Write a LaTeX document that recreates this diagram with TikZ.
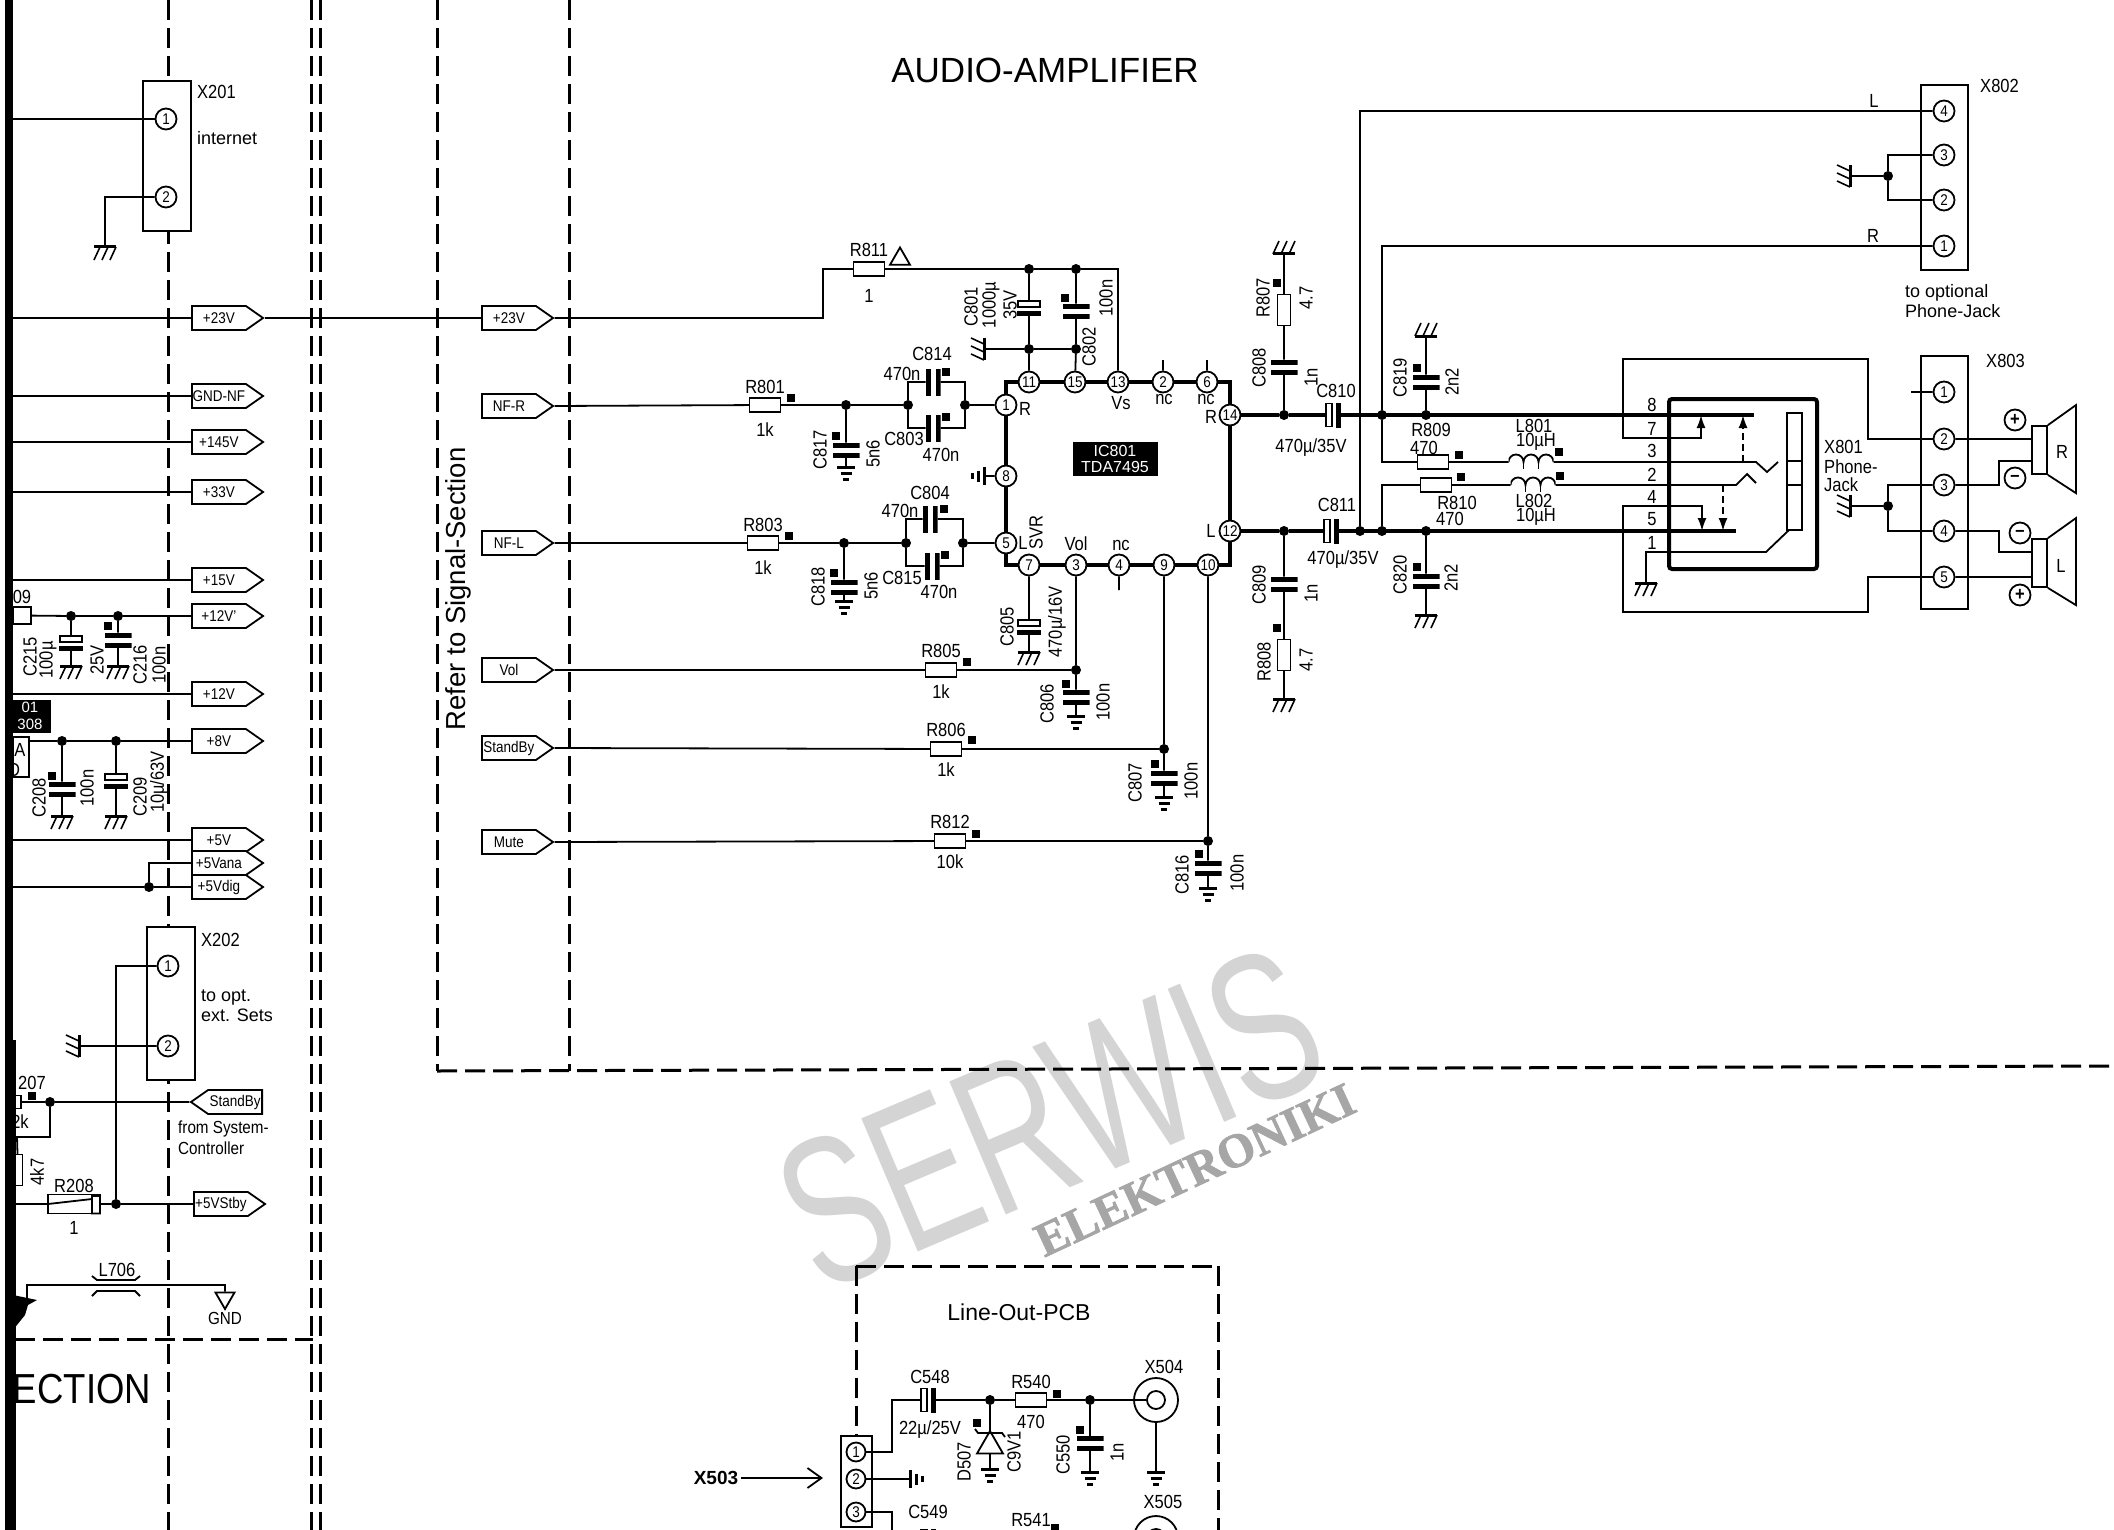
\documentclass[tikz,border=0pt]{standalone}
\usepackage{fontspec}
\setmainfont[FakeStretch=0.87]{Liberation Sans}
\newfontfamily\widefont{Liberation Sans}
\newfontfamily\stampfont[FakeBold=1.6]{Liberation Serif}
\usetikzlibrary{arrows,arrows.meta,positioning,shapes.geometric,shapes.symbols}

\begin{document}
\begin{tikzpicture}[x=1pt, y=-1pt, node distance=4pt, >=latex',
 wire/.style = {line width=1.8pt},
 bus/.style = {line width=4pt},
 sect/.style = {line width=3pt, dash pattern=on 20pt off 8pt},
 jtip/.style = {-{Latex[length=13pt,width=9pt]}},
 txt/.style = {inner sep=0pt, font=\fontsize{19}{20}\selectfont},
 vtxt/.style = {txt, rotate=90},
 small/.style = {inner sep=0pt, font=\fontsize{17.5}{18}\selectfont},
 wide/.style = {inner sep=0pt, font=\widefont\fontsize{18}{19}\selectfont},
 pin/.style = {draw, wire, circle, fill=white, minimum size=21pt, inner sep=0pt, font=\fontsize{15.5}{16}\selectfont},
 dot/.style = {circle, fill=black, minimum size=10pt, inner sep=0pt},
 smd/.style = {rectangle, fill=black, minimum size=8pt, inner sep=0pt},
 conn/.style = {draw, rectangle, line width=2.6pt, fill=white, inner sep=0pt},
 rblock/.style = {draw, wire, rectangle, fill=white, minimum width=31pt, minimum height=14pt, inner sep=0pt, outer sep=0pt},
 vrblock/.style = {rblock, minimum width=13pt, minimum height=31pt},
 tag/.style = {draw, wire, signal, signal to=east, signal pointer angle=70, fill=white, anchor=west, text width=54pt, align=center, minimum height=24pt, inner sep=0pt, font=\fontsize{15.5}{16}\selectfont},
 tagl/.style = {tag, signal to=west, anchor=east},
 capv/.style = {rectangle, minimum width=27pt, minimum height=15pt, inner sep=0pt, outer sep=0pt,
   path picture={\fill (path picture bounding box.north west) rectangle ([yshift=-5pt]path picture bounding box.north east);
                 \fill (path picture bounding box.south west) rectangle ([yshift=5pt]path picture bounding box.south east);}},
 caph/.style = {rectangle, minimum width=15pt, minimum height=27pt, inner sep=0pt, outer sep=0pt,
   path picture={\fill (path picture bounding box.north west) rectangle ([xshift=5pt]path picture bounding box.south west);
                 \fill (path picture bounding box.north east) rectangle ([xshift=-5pt]path picture bounding box.south east);}},
 capvp/.style = {rectangle, minimum width=24pt, minimum height=16pt, inner sep=0pt, outer sep=0pt,
   path picture={\draw[wire] ([xshift=1pt,yshift=-1pt]path picture bounding box.north west) rectangle ([xshift=-1pt,yshift=-7pt]path picture bounding box.north east);
                 \fill (path picture bounding box.south west) rectangle ([yshift=5pt]path picture bounding box.south east);}},
 caphp/.style = {rectangle, minimum width=16pt, minimum height=25pt, inner sep=0pt, outer sep=0pt,
   path picture={\draw[wire] ([xshift=1pt,yshift=-1pt]path picture bounding box.north west) rectangle ([xshift=7pt,yshift=1pt]path picture bounding box.south west);
                 \fill (path picture bounding box.north east) rectangle ([xshift=-5pt]path picture bounding box.south east);}},
 coil/.style = {rectangle, minimum width=45pt, minimum height=18pt, inner sep=0pt, outer sep=0pt,
   path picture={\draw[wire] (path picture bounding box.west) arc[start angle=180,end angle=0,radius=7.5pt] arc[start angle=180,end angle=0,radius=7.5pt] arc[start angle=180,end angle=0,radius=7.5pt];
                 \draw[wire] ([xshift=-7.5pt]path picture bounding box.center) -- ++(0pt,-7pt) ([xshift=7.5pt]path picture bounding box.center) -- ++(0pt,-7pt);}},
 chassis/.pic = {\coordinate (-c) at (0,0);
   \draw[line width=3pt] (-11,0) -- (11,0);
   \draw[line width=1.6pt] (-5,0) -- (-11,13) (3,0) -- (-3,13) (11,0) -- (5,13);},
 earth/.pic = {\coordinate (-c) at (0,0);
   \draw[line width=3pt] (-9,0) -- (9,0) (-5.5,6) -- (5.5,6) (-3,12) -- (3,12);},
]
    \useasboundingbox (0,0) rectangle (2114,1530);
    \clip (0,0) rectangle (2114,1530);
    \fill[white] (0,0) rectangle (2114,1530);

%% stamp across the sheet
    \node [rotate=23, text=gray!34, inner sep=0pt, xscale=.68, font=\widefont\fontsize{210}{210}\selectfont, transform shape] (stamp) at (1050,1118) {SERWIS};
    \node [rotate=25, text=gray!70, inner sep=0pt, font=\stampfont\bfseries\fontsize{48}{48}\selectfont] (stampb) at (1195,1170) {ELEKTRONIKI};

%% section borders
    \draw[sect] (168,0) -- (168,1530);
    \draw[sect] (311,0) -- (311,1530);
    \draw[sect] (320,0) -- (320,1530);
    \draw[sect] (437,0) -- (437,1071);
    \draw[sect] (569,0) -- (569,1071);
    \draw[sect] (437,1071) -- (2114,1066);
    \draw[sect] (15,1339) -- (313,1339);
    \draw[sect] (856,1266) -- (1218,1266);
    \draw[sect] (856,1266) -- (856,1436);
    \draw[sect] (1218,1266) -- (1218,1530);

    \coordinate (lft) at (9,0);

%% connectors and IC frame
    \node [conn, minimum width=48pt, minimum height=150pt] (x201) at (167,156) {};
    \node [conn, minimum width=48pt, minimum height=153pt] (x202) at (171,1003.5) {};
    \node [conn, minimum width=47pt, minimum height=185pt] (x802) at (1944.5,177.5) {};
    \node [conn, minimum width=47pt, minimum height=253pt] (x803) at (1944.5,482.5) {};
    \node [conn, minimum width=31pt, minimum height=91pt] (x503) at (856.5,1481.5) {};
    \node [draw, bus, minimum width=224pt, minimum height=183pt, inner sep=0pt] (icframe) at (1118,473.5) {};
    \node [draw, bus, rounded corners=3pt, minimum width=148pt, minimum height=170pt, inner sep=0pt] (jack) at (1743,484) {};
    \node [draw, wire, minimum width=15pt, minimum height=117pt, inner sep=0pt] (sleeve) at (1794.5,471.5) {};
    \draw[wire] (1787,461) -- (1802,461) (1787,485) -- (1802,485);

%% tags
    \node [tag] (t23a)  at (191,318) {+23V};
    \node [tag] (tgnd)  at (191,396) {GND-NF};
    \node [tag] (t145)  at (191,442) {+145V};
    \node [tag] (t33)   at (191,492) {+33V};
    \node [tag] (t15)   at (191,580) {+15V};
    \node [tag] (t12b)  at (191,616) {+12V'};
    \node [tag] (t12)   at (191,694) {+12V};
    \node [tag] (t8)    at (191,741) {+8V};
    \node [tag] (t5)    at (191,840) {+5V};
    \node [tag] (t5ana) at (191,863) {+5Vana};
    \node [tag] (t5dig) at (191,887) {+5Vdig};
    \node [tagl] (tsby) at (263,1102) {StandBy};
    \node [tag] (t5sby) at (193,1204) {+5VStby};
    \node [tag] (t23b)  at (481,318) {+23V};
    \node [tag] (tnfr)  at (481,406) {NF-R};
    \node [tag] (tnfl)  at (481,543) {NF-L};
    \node [tag] (tvol)  at (481,670) {Vol};
    \node [tag] (tstb)  at (481,748) {StandBy};
    \node [tag] (tmute) at (481,842) {Mute};

%% pins
    \node [pin] (x201a) at (166,119) {1};
    \node [pin] (x201b) at (166,197) {2};
    \node [pin] (x202a) at (168,966) {1};
    \node [pin] (x202b) at (168,1046) {2};
    \node [pin] (p11) at (1029,382) {11};
    \node [pin] (p15) at (1075,382) {15};
    \node [pin] (p13) at (1118,382) {13};
    \node [pin] (p2)  at (1163,382) {2};
    \node [pin] (p6)  at (1207,382) {6};
    \node [pin] (p14) at (1230,415) {14};
    \node [pin] (p12) at (1230,531) {12};
    \node [pin] (p1)  at (1006,405) {1};
    \node [pin] (p8)  at (1006,476) {8};
    \node [pin] (p5)  at (1006,543) {5};
    \node [pin] (p7)  at (1029,565) {7};
    \node [pin] (p3)  at (1076,565) {3};
    \node [pin] (p4)  at (1119,565) {4};
    \node [pin] (p9)  at (1164,565) {9};
    \node [pin] (p10) at (1208,565) {10};
    \node [pin] (x802d) at (1944,111) {4};
    \node [pin] (x802c) at (1944,155) {3};
    \node [pin] (x802b) at (1944,200) {2};
    \node [pin] (x802a) at (1944,246) {1};
    \node [pin] (x803a) at (1944,392) {1};
    \node [pin] (x803b) at (1944,439) {2};
    \node [pin] (x803c) at (1944,485) {3};
    \node [pin] (x803d) at (1944,531) {4};
    \node [pin] (x803e) at (1944,577) {5};
    \node [pin, minimum size=19pt] (x503a) at (856,1452) {1};
    \node [pin, minimum size=19pt] (x503b) at (856,1479) {2};
    \node [pin, minimum size=19pt] (x503c) at (856,1512) {3};

%% resistors
    \node [rblock] (r811) at (869,269) {};
    \node [rblock] (r801) at (765,405) {};
    \node [rblock] (r803) at (763,543) {};
    \node [rblock] (r805) at (941,670) {};
    \node [rblock] (r806) at (946,749) {};
    \node [rblock] (r812) at (950,841) {};
    \node [rblock] (r809) at (1433,462) {};
    \node [rblock] (r810) at (1436,485) {};
    \node [vrblock] (r807) at (1284,310) {};
    \node [vrblock] (r808) at (1284,655) {};
    \node [rblock] (r540) at (1031,1400) {};
    \node [rblock] (r541) at (1031,1540) {};
    \node [rblock, minimum width=52pt, minimum height=19pt] (r208) at (74,1204) {};
    \node [rblock, minimum width=8pt, minimum height=13pt] (r207) at (17,1102) {};
    \node [vrblock, minimum width=9pt] (r206) at (18,1170) {};
    \node [rblock, minimum width=18pt, minimum height=17pt] (r209) at (22,615.5) {};
    \node [rblock, minimum width=16pt, minimum height=40pt] (boxa) at (21,757) {};
    \draw[wire] (r208.west) -- ++(44,-5) ++(0,-3) rectangle (r208.south east);

%% capacitors
    \node [capvp] (c215) at (71,643) {};
    \node [capv]  (c216) at (118,640) {};
    \node [capv]  (c208) at (62,789) {};
    \node [capvp] (c209) at (116,781) {};
    \node [capvp] (c801) at (1029,308) {};
    \node [capv]  (c802) at (1076,311) {};
    \node [caph]  (c814) at (933,382) {};
    \node [caph]  (c803) at (933,428) {};
    \node [caph]  (c804) at (930,519) {};
    \node [caph]  (c815) at (932,566) {};
    \node [capv]  (c817) at (846,450) {};
    \node [capv]  (c818) at (844,587) {};
    \node [capvp] (c805) at (1029,627) {};
    \node [capv]  (c806) at (1076,697) {};
    \node [capv]  (c807) at (1164,778) {};
    \node [capv]  (c816) at (1208,868) {};
    \node [capv]  (c808) at (1284,367) {};
    \node [capv]  (c809) at (1284,584) {};
    \node [capv]  (c819) at (1426,382) {};
    \node [capv]  (c820) at (1426,581) {};
    \node [caphp] (c810) at (1333,415) {};
    \node [caphp] (c811) at (1331,531) {};
    \node [caphp] (c548) at (928,1400) {};
    \node [caphp] (c549) at (928,1541) {};
    \node [capv]  (c550) at (1090,1443) {};
    \node [coil]  (l801) at (1531,462) {};
    \node [coil]  (l802) at (1533,485) {};

%% junctions
    \node [dot] (d215) at (71,616) {};
    \node [dot] (d216) at (118,616) {};
    \node [dot] (d208) at (62,741) {};
    \node [dot] (d209) at (116,741) {};
    \node [dot] (d5)   at (149,887) {};
    \node [dot] (dsby) at (50,1102) {};
    \node [dot] (d208b) at (116,1204) {};
    \node [dot] (d801) at (1029,269) {};
    \node [dot] (d802) at (1076,269) {};
    \node [dot] (d801g) at (1029,349) {};
    \node [dot] (d802g) at (1076,349) {};
    \node [dot] (d817) at (846,405) {};
    \node [dot] (d814l) at (908,405) {};
    \node [dot] (d814r) at (965,405) {};
    \node [dot] (d818) at (844,543) {};
    \node [dot] (d804l) at (906,543) {};
    \node [dot] (d804r) at (963,543) {};
    \node [dot] (d806) at (1076,670) {};
    \node [dot] (d807) at (1164,749) {};
    \node [dot] (d816) at (1208,841) {};
    \node [dot] (d808) at (1284,415) {};
    \node [dot] (d809) at (1284,531) {};
    \node [dot] (dr)   at (1382,415) {};
    \node [dot] (d819) at (1426,415) {};
    \node [dot] (dll)  at (1360,531) {};
    \node [dot] (dl)   at (1382,531) {};
    \node [dot] (d820) at (1426,531) {};
    \node [dot] (d802j) at (1888,176) {};
    \node [dot] (d803j) at (1888,506) {};
    \node [dot] (d507a) at (990,1400) {};
    \node [dot] (d550) at (1090,1400) {};

%% small squares
    \node [smd] (m216) at (108,626) {};
    \node [smd] (m208) at (52,776) {};
    \node [smd] (m207) at (32,1096) {};
    \node [smd] (m802) at (1065,298) {};
    \node [smd, right=6pt of r801.north east] (m801) {};
    \node [smd, right=6pt of r803.north east] (m803) {};
    \node [smd] (m814) at (946,372) {};
    \node [smd] (m8b3) at (946,417) {};
    \node [smd] (m804) at (944,509) {};
    \node [smd] (m815) at (945,555) {};
    \node [smd] (m817) at (836,436) {};
    \node [smd] (m818) at (834,573) {};
    \node [smd] (m805) at (967,662) {};
    \node [smd] (m806) at (972,740) {};
    \node [smd] (m812) at (976,834) {};
    \node [smd] (m86)  at (1066,684) {};
    \node [smd] (m87)  at (1155,764) {};
    \node [smd] (m816) at (1199,854) {};
    \node [smd] (m807) at (1277,283) {};
    \node [smd] (m808) at (1277,628) {};
    \node [smd] (m819) at (1417,368) {};
    \node [smd] (m820) at (1417,567) {};
    \node [smd] (m809) at (1459,455) {};
    \node [smd] (m810) at (1461,477) {};
    \node [smd] (ml801) at (1559,452) {};
    \node [smd] (ml802) at (1560,476) {};
    \node [smd] (m507) at (977,1423) {};
    \node [smd] (m540) at (1057,1394) {};
    \node [smd] (m550) at (1080,1430) {};
    \node [smd] (m541) at (1055,1528) {};

%% grounds
    \pic (g201) at (105,247) {chassis};
    \pic (g215) at (71,666) {chassis};
    \pic (g216) at (118,666) {chassis};
    \pic (g208) at (62,816) {chassis};
    \pic (g209) at (116,816) {chassis};
    \pic [rotate=-90] (g202) at (79,1046) {chassis};
    \pic [rotate=-90] (g801) at (984,349) {chassis};
    \pic (g805) at (1029,652) {chassis};
    \pic [rotate=180] (g807) at (1284,254) {chassis};
    \pic [rotate=180] (g819) at (1426,336) {chassis};
    \pic (g808) at (1284,699) {chassis};
    \pic (g820) at (1426,615) {chassis};
    \pic (gjack) at (1646,583) {chassis};
    \pic [rotate=-90] (g802) at (1850,176) {chassis};
    \pic [rotate=-90] (g803) at (1850,506) {chassis};
    \pic (g817) at (846,467) {earth};
    \pic (g818) at (844,601) {earth};
    \pic [rotate=-90] (g8) at (984,476) {earth};
    \pic (g806) at (1076,716) {earth};
    \pic (g87) at (1164,797) {earth};
    \pic (g816) at (1208,888) {earth};
    \pic (g507) at (990,1469) {earth};
    \pic (g550) at (1090,1472) {earth};
    \pic (g504) at (1156,1472) {earth};
    \pic [rotate=90] (gx503) at (910,1479) {earth};

%% odd parts
    \node [draw, wire, regular polygon, regular polygon sides=3, shape border rotate=180, minimum size=22pt, inner sep=0pt] (gndt) at (225,1298) {};
    \node [draw, wire, regular polygon, regular polygon sides=3, minimum size=23pt, inner sep=0pt] (warn) at (900,259) {};
    \node [draw, wire, regular polygon, regular polygon sides=3, minimum size=30pt, inner sep=0pt, outer sep=0pt] (d507) at (990,1446) {};
    \draw[wire] (975,1429) -- (978,1433) -- (1002,1433) -- (1005,1437);
    \node [draw, wire, circle, fill=white, minimum size=44pt, inner sep=0pt] (x504o) at (1156,1400) {};
    \node [draw, wire, circle, fill=white, minimum size=18pt, inner sep=0pt] (x504) at (1156,1400) {};
    \node [draw, wire, circle, fill=white, minimum size=44pt, inner sep=0pt] (x505o) at (1156,1538) {};
    \node [draw, wire, circle, fill=white, minimum size=18pt, inner sep=0pt] (x505) at (1156,1538) {};
    \node [draw, wire, rectangle, fill=white, minimum width=15pt, minimum height=48pt, inner sep=0pt] (spr) at (2039.5,450) {};
    \node [draw, wire, rectangle, fill=white, minimum width=15pt, minimum height=48pt, inner sep=0pt] (spl) at (2039.5,563) {};
    \draw[wire] (spr.north east) -- ++(28,-20) -- ++(0,88) -- (spr.south east);
    \draw[wire] (spl.north east) -- ++(28,-20) -- ++(0,87) -- (spl.south east);
    \node [pin, font=\bfseries\fontsize{19}{19}\selectfont] (sprp) at (2015,420) {+};
    \node [pin, font=\bfseries\fontsize{19}{19}\selectfont] (sprm) at (2015,478) {--};
    \node [pin, font=\bfseries\fontsize{19}{19}\selectfont] (splm) at (2020,533) {--};
    \node [pin, font=\bfseries\fontsize{19}{19}\selectfont] (splp) at (2020,595) {+};

%% free ends and bends
    \coordinate (b811a) at (823,318);
    \coordinate (b811b) at (823,269);
    \coordinate (s2) at (1163,360);
    \coordinate (s6) at (1207,360);
    \coordinate (s4) at (1119,590);
    \coordinate (e8) at (1754,415);
    \coordinate (e5) at (1736,531);
    \coordinate (a7) at (1701,415);
    \coordinate (a7b) at (1701,438);
    \coordinate (o1) at (1868,439);
    \coordinate (o2) at (1868,359);
    \coordinate (o3) at (1623,359);
    \coordinate (o4) at (1623,438);
    \coordinate (u1) at (1868,577);
    \coordinate (u2) at (1868,612);
    \coordinate (u3) at (1623,612);
    \coordinate (u4) at (1623,506);
    \coordinate (u5) at (1702,506);
    \coordinate (a4) at (1702,531);
    \coordinate (k3) at (1743,462);
    \coordinate (k3b) at (1743,415);
    \coordinate (k2) at (1723,485);
    \coordinate (k2b) at (1723,531);
    \coordinate (cr1) at (1756,462);
    \coordinate (cr2) at (1767,472);
    \coordinate (cr3) at (1778,462);
    \coordinate (cl1) at (1736,485);
    \coordinate (cl2) at (1747,474);
    \coordinate (cl3) at (1756,483);
    \coordinate (j1) at (1646,552);
    \coordinate (j2) at (1766,552);
    \coordinate (j3) at (1789,530);
    \coordinate (rtop) at (1382,246);
    \coordinate (ltop) at (1360,111);
    \coordinate (r9) at (1382,462);
    \coordinate (r10) at (1382,485);
    \coordinate (s1) at (1911,392);
    \coordinate (v3) at (1999,485);
    \coordinate (v3b) at (1999,461);
    \coordinate (v4) at (1999,531);
    \coordinate (v4b) at (1999,552);
    \coordinate (sb1) at (50,1137);
    \coordinate (sb2) at (17,1137);
    \coordinate (gx1) at (27,1285);
    \coordinate (gx2) at (27,1301);
    \coordinate (gx3) at (225,1285);
    \coordinate (x5b) at (892,1400);
    \coordinate (x5c) at (892,1452);
    \coordinate (x5d) at (892,1512);
    \coordinate (x5e) at (892,1530);
    \coordinate (xin) at (741,1478);
    \coordinate (xout) at (823,1478);

%% paths
    \path[draw,wire] (lft |- x201a) edge (x201a)
                   (x201b) -| (g201-c)
                   (lft |- t23a) edge (t23a.west)
                   (lft |- tgnd) edge (tgnd.west)
                   (lft |- t145) edge (t145.west)
                   (lft |- t33) edge (t33.west)
                   (lft |- t15) edge (t15.west)
                   (r209) -- (d215) -- (d216) -- (t12b.west)
                   (d215) -- (c215) -- (g215-c)
                   (d216) -- (c216) -- (g216-c)
                   (lft |- t12) edge (t12.west)
                   (boxa.north east |- t8) -- (d208) -- (d209) -- (t8.west)
                   (d208) -- (c208) -- (g208-c)
                   (d209) -- (c209) -- (g209-c)
                   (lft |- t5) edge (t5.west)
                   (lft |- t5dig) -- (d5) -- (t5dig.west)
                   (d5) |- (t5ana.west)
                   (x202a) -| (d208b)
                   (x202b) -- (g202-c)
                   (r207) -- (dsby) -- (tsby.west)
                   (dsby) -- (sb1) -- (sb2) -- (r206)
                   (lft |- r208) -- (r208) -- (d208b) -- (t5sby.west)
                   (gx2) -- (gx1) -- (gx3) -- (gndt);
    \path[draw,wire] (t23a.east) edge (t23b.west)
                   (t23b.east) -- (b811a) -- (b811b) -- (r811) -- (d801) -- (d802) -| (p13)
                   (d801) -- (c801) -- (d801g) -- (p11)
                   (d802) -- (c802) -- (d802g) -- (p15)
                   (g801-c) -- (d801g) -- (d802g)
                   (p2) -- (s2)
                   (p6) -- (s6)
                   (p4) -- (s4)
                   (tnfr.east) -- (r801) -- (d817) -- (d814l)
                   (d817) -- (c817) -- (g817-c)
                   (d814l) |- (c814) -| (d814r)
                   (d814l) |- (c803) -| (d814r)
                   (d814r) -- (p1)
                   (tnfl.east) -- (r803) -- (d818) -- (d804l)
                   (d818) -- (c818) -- (g818-c)
                   (d804l) |- (c804) -| (d804r)
                   (d804l) |- (c815) -| (d804r)
                   (d804r) -- (p5)
                   (p8) -- (g8-c)
                   (p7) -- (c805) -- (g805-c)
                   (tvol.east) -- (r805) -- (d806) -- (p3)
                   (d806) -- (c806) -- (g806-c)
                   (tstb.east) -- (r806) -- (d807) -- (p9)
                   (d807) -- (c807) -- (g87-c)
                   (tmute.east) -- (r812) -- (d816) -- (p10)
                   (d816) -- (c816) -- (g816-c);
    \path[draw,bus] (p14) -- (d808) -- (c810) -- (e8)
                    (p12) -- (d809) -- (c811) -- (e5);
    \path[draw,wire] (d808) -- (c808) -- (r807) -- (g807-c)
                   (d809) -- (c809) -- (r808) -- (g808-c)
                   (d819) -- (c819) -- (g819-c)
                   (d820) -- (c820) -- (g820-c)
                   (x802a) -- (rtop) -- (dr) -- (r9) -- (r809) -- (l801) -- (cr1) -- (cr2) -- (cr3)
                   (x802d) -- (ltop) -- (dll)
                   (dl) -- (r10) -- (r810) -- (l802) -- (cl1) -- (cl2) -- (cl3)
                   (x802c) -| (d802j)
                   (x802b) -| (d802j)
                   (d802j) -- (g802-c)
                   (x803c) -| (d803j)
                   (x803d) -| (d803j)
                   (d803j) -- (g803-c)
                   (x803a) -- (s1)
                   (x803b) -- (spr.west |- x803b)
                   (x803c) -- (v3) -- (v3b) -- (spr.west |- v3b)
                   (x803d) -- (v4) -- (v4b) -- (spl.west |- v4b)
                   (x803e) -- (spl.west |- x803e)
                   (gjack-c) -- (j1) -- (j2) -- (j3);
    \path[draw,wire,jtip] (x803b) -- (o1) -- (o2) -- (o3) -- (o4) -- (a7b) -- (a7);
    \path[draw,wire,jtip] (x803e) -- (u1) -- (u2) -- (u3) -- (u4) -- (u5) -- (a4);
    \path[draw,wire,dash pattern=on 7pt off 4pt,jtip] (k3) -- (k3b);
    \path[draw,wire,dash pattern=on 7pt off 4pt,jtip] (k2) -- (k2b);
    \path[draw,wire] (x503a) -- (x5c) -- (x5b) -- (c548) -- (d507a) -- (r540) -- (d550) -- (x504)
                   (d507a) -- (d507) -- (g507-c)
                   (d550) -- (c550) -- (g550-c)
                   (x504o) -- (g504-c)
                   (x503b) -- (gx503-c)
                   (x503c) -- (x5d) -- (x5e);
    \draw[wire] (92,1276) -- (97,1280) -- (135,1280) -- (140,1276)
                (92,1296) -- (97,1291) -- (135,1291) -- (140,1296);
    \path[draw,wire,-{Straight Barb[length=14pt,width=20pt]}] (xin) -- (xout);

%% left edge of the sheet
    \draw[line width=8pt] (9,0) -- (9,1040);
    \draw[line width=11pt] (10,1040) -- (10,1530);
    \fill (13,1295) -- (37,1300) -- (28,1305) -- (25,1315) -- (13,1330) -- cycle;
    \node [fill=black, text=white, minimum width=46pt, minimum height=33pt, inner sep=0pt, align=center, font=\widefont\fontsize{15}{16.5}\selectfont] (ic201) at (28,716) {\hspace*{4pt}01\\\hspace*{4pt}308};

%% texts
    \node [inner sep=0pt, font=\widefont\fontsize{35}{36}\selectfont] (title) at (1045,70) {AUDIO-AMPLIFIER};
    \node [inner sep=0pt, rotate=90, font=\widefont\fontsize{27.5}{28}\selectfont] (refer) at (458,589) {Refer to Signal-Section};
    \node [inner sep=0pt, font=\fontsize{42}{42}\selectfont] (ection) at (82,1389) {ECTION};
    \node [inner sep=0pt, font=\widefont\fontsize{23}{24}\selectfont] (lineout) at (1019,1312) {Line-Out-PCB};
    \node [txt, anchor=west] (x201t) at (197,92) {X201};
    \node [wide, anchor=west] (inet) at (197,138) {internet};
    \node [txt, anchor=west] (x202t) at (201,940) {X202};
    \node [wide, anchor=west] (toopt) at (201,998) {to opt.};
    \node [wide, anchor=west] (extset) at (201,1015) {ext. Sets};
    \node [small, anchor=west] (fromsys) at (178,1129) {from System-};
    \node [small, anchor=west] (ctrl) at (178,1148) {Controller};
    \node [txt, anchor=west] (x802t) at (1980,86) {X802};
    \node [txt, anchor=west] (x803t) at (1986,361) {X803};
    \node [wide, anchor=west] (toopj) at (1905,293) {to optional};
    \node [wide, anchor=west] (phonej) at (1905,311) {Phone-Jack};
    \node [txt] (lt) at (1874,101) {L};
    \node [txt] (rt) at (1873,236) {R};
    \node [txt, anchor=west] (x801a) at (1824,447) {X801};
    \node [txt, anchor=west] (x801b) at (1824,467) {Phone-};
    \node [txt, anchor=west] (x801c) at (1824,485) {Jack};
    \node [txt] (spkr) at (2062,452) {R};
    \node [txt] (spkl) at (2061,566) {L};

%% part names
    \node [txt, above=5pt of r811] (r811t) {R811};
    \node [txt, below=13pt of r811] (r811v) {1};
    \node [txt, above=4pt of r801] (r801t) {R801};
    \node [txt, below=11pt of r801] (r801v) {1k};
    \node [txt, above=4pt of r803] (r803t) {R803};
    \node [txt, below=11pt of r803] (r803v) {1k};
    \node [txt, above=5pt of r805] (r805t) {R805};
    \node [txt, below=8pt of r805] (r805v) {1k};
    \node [txt, above=5pt of r806] (r806t) {R806};
    \node [txt, below=7pt of r806] (r806v) {1k};
    \node [txt, above=5pt of r812] (r812t) {R812};
    \node [txt, below=7pt of r812] (r812v) {10k};
    \node [txt, above=4pt of r540] (r540t) {R540};
    \node [txt, below=8pt of r540] (r540v) {470};
    \node [txt, above=6pt of r541] (r541t) {R541};
    \node [txt, above=2pt of r208] (r208t) {R208};
    \node [txt, below=8pt of r208] (r208v) {1};
    \node [txt] (r207t) at (32,1083) {207};
    \node [txt] (r207v) at (20,1122) {2k};
    \node [vtxt] (r206v) at (37,1172) {4k7};
    \node [txt] (r209t) at (22,597) {09};
    \node [txt] (boxat) at (20,750) {A};
    \node [txt] (boxdt) at (14,770) {D};
    \node [txt] (l706t) at (117,1270) {L706};
    \node [small] (gndl) at (225,1318) {GND};

    \node [vtxt] (c215t) at (30,657) {C215};
    \node [vtxt] (c215v) at (48,660) {100µ};
    \node [vtxt] (c215u) at (97,660) {25V};
    \node [vtxt] (c216t) at (140,665) {C216};
    \node [vtxt] (c216v) at (159,665) {100n};
    \node [vtxt] (c208t) at (39,798) {C208};
    \node [vtxt] (c208v) at (87,788) {100n};
    \node [vtxt] (c209t) at (140,797) {C209};
    \node [vtxt] (c209v) at (159,782) {10µ/63V};

    \node [vtxt] (c801t) at (971,307) {C801};
    \node [vtxt] (c801v) at (991,305) {1000µ};
    \node [vtxt] (c801u) at (1010,305) {35V};
    \node [vtxt] (c802t) at (1089,347) {C802};
    \node [vtxt] (c802v) at (1106,298) {100n};
    \node [txt] (c814t) at (932,354) {C814};
    \node [txt] (c814v) at (902,374) {470n};
    \node [txt] (c803t) at (904,439) {C803};
    \node [txt] (c803v) at (941,455) {470n};
    \node [txt] (c804t) at (930,493) {C804};
    \node [txt] (c804v) at (900,511) {470n};
    \node [txt] (c815t) at (902,578) {C815};
    \node [txt] (c815v) at (939,592) {470n};
    \node [vtxt] (c817t) at (820,450) {C817};
    \node [vtxt] (c817v) at (873,454) {5n6};
    \node [vtxt] (c818t) at (818,587) {C818};
    \node [vtxt] (c818v) at (871,586) {5n6};
    \node [vtxt] (c805t) at (1007,627) {C805};
    \node [vtxt] (c805v) at (1057,622) {470µ/16V};
    \node [vtxt] (c806t) at (1047,704) {C806};
    \node [vtxt] (c806v) at (1103,702) {100n};
    \node [vtxt] (c807t) at (1135,783) {C807};
    \node [vtxt] (c807v) at (1191,781) {100n};
    \node [vtxt] (c816t) at (1182,875) {C816};
    \node [vtxt] (c816v) at (1237,873) {100n};

    \node [vtxt] (r807t) at (1263,298) {R807};
    \node [vtxt] (r807v) at (1306,298) {4.7};
    \node [vtxt] (c808t) at (1259,368) {C808};
    \node [vtxt] (c808v) at (1311,377) {1n};
    \node [vtxt] (c809t) at (1259,585) {C809};
    \node [vtxt] (c809v) at (1311,593) {1n};
    \node [vtxt] (r808t) at (1264,662) {R808};
    \node [vtxt] (r808v) at (1306,660) {4.7};
    \node [vtxt] (c819t) at (1400,378) {C819};
    \node [vtxt] (c819v) at (1452,382) {2n2};
    \node [vtxt] (c820t) at (1400,575) {C820};
    \node [vtxt] (c820v) at (1451,578) {2n2};
    \node [txt] (c810t) at (1336,391) {C810};
    \node [txt] (c810v) at (1311,448) {470µ/35V};
    \node [txt] (c811t) at (1337,505) {C811};
    \node [txt] (c811v) at (1343,560) {470µ/35V};
    \node [txt] (r809t) at (1431,430) {R809};
    \node [txt] (r809v) at (1424,448) {470};
    \node [txt] (r810t) at (1457,503) {R810};
    \node [txt] (r810v) at (1450,519) {470};
    \node [txt] (l801t) at (1534,426) {L801};
    \node [txt] (l801v) at (1536,442) {10µH};
    \node [txt] (l802t) at (1534,501) {L802};
    \node [txt] (l802v) at (1536,517) {10µH};
    \node [txt] (j8) at (1652,405) {8};
    \node [txt] (j7) at (1652,429) {7};
    \node [txt] (j3t) at (1652,451) {3};
    \node [txt] (j2t) at (1652,475) {2};
    \node [txt] (j4) at (1652,497) {4};
    \node [txt] (j5) at (1652,519) {5};
    \node [txt] (j1t) at (1652,543) {1};

    \node [txt] (prr) at (1025,409) {R};
    \node [txt] (pvs) at (1121,403) {Vs};
    \node [txt] (pnca) at (1164,399) {nc};
    \node [txt] (pncb) at (1206,399) {nc};
    \node [txt] (pr14) at (1211,417) {R};
    \node [txt] (pl12) at (1211,531) {L};
    \node [vtxt] (psvr) at (1036,533) {SVR};
    \node [txt] (pl5) at (1023,543) {L};
    \node [txt] (pvol) at (1076,544) {Vol};
    \node [txt] (pncc) at (1121,545) {nc};
    \node [fill=black, text=white, minimum width=85pt, minimum height=34pt, inner sep=0pt, align=center, font=\widefont\fontsize{16}{16.5}\selectfont] (ic801) at (1115,459) {IC801\\TDA7495};

    \node [txt] (c548t) at (930,1377) {C548};
    \node [txt] (c548v) at (930,1430) {22µ/25V};
    \node [vtxt] (d507t) at (964,1462) {D507};
    \node [vtxt] (d507v) at (1014,1452) {C9V1};
    \node [vtxt] (c550t) at (1063,1455) {C550};
    \node [vtxt] (c550v) at (1117,1452) {1n};
    \node [txt] (x504t) at (1164,1367) {X504};
    \node [txt] (x505t) at (1163,1502) {X505};
    \node [txt] (c549t) at (928,1512) {C549};
    \node [inner sep=0pt, font=\widefont\bfseries\fontsize{19}{19}\selectfont] (x503t) at (716,1478) {X503};
\end{tikzpicture}
\end{document}
